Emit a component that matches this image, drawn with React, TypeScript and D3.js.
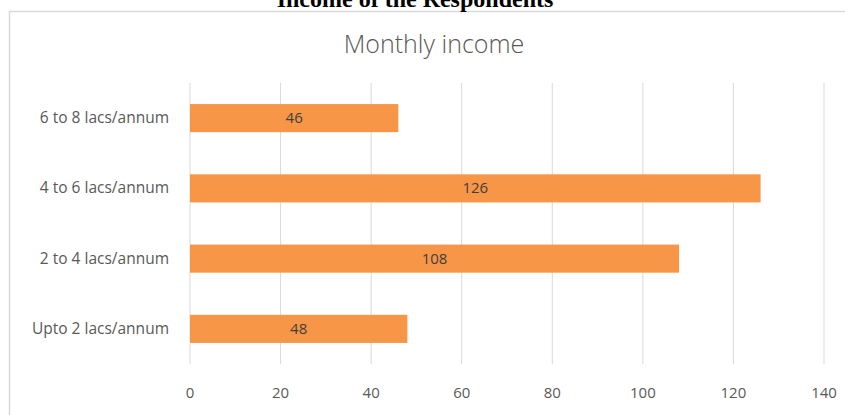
import React from 'react';
import * as d3 from 'd3';

const categories = ['6 to 8 lacs/annum', '4 to 6 lacs/annum', '2 to 4 lacs/annum', 'Upto 2 lacs/annum'];
const values = [46, 126, 108, 48];
const xTicks = [0, 20, 40, 60, 80, 100, 120, 140];

const W = 845;
const H = 415;
const BAR = '#F79646';
const GRID = '#d9d9d9';
const FONT = '"Open Sans", Lato, sans-serif';

const App = () => {
    const x = d3.scaleLinear().domain([0, 140]).range([190, 824]);
    const y = d3.scaleBand<string>().domain(categories).range([83, 364]).paddingInner(0.6).paddingOuter(0.3);

    return (
        <svg
            width={W}
            height={H}
            style={{ position: 'absolute', left: 0, top: 0, background: '#fff' }}
        >
            {/* chart frame */}
            <rect x={9.5} y={11.5} width={W} height={H} fill='none' stroke={GRID} strokeWidth={1.5} />
            {/* page caption above the chart, clipped by the top edge */}
            <text
                x={415}
                y={7}
                textAnchor='middle'
                fontFamily='"Liberation Serif", "Times New Roman", serif'
                fontWeight='bold'
                fontSize={24}
                fill='#000'
            >
                Income of the Respondents
            </text>
            <text x={434} y={53} textAnchor='middle' fontFamily={FONT} fontWeight={300} fontSize={25} fill='#595959'>
                Monthly income
            </text>
            {xTicks.map(t => (
                <g key={t}>
                    <line x1={x(t)} x2={x(t)} y1={83} y2={364} stroke={GRID} strokeWidth={1} />
                    <text x={x(t)} y={398} textAnchor='middle' fontFamily={FONT} fontSize={15} fill='#595959'>
                        {t}
                    </text>
                </g>
            ))}
            {categories.map((c, i) => {
                const by = y(c) ?? 0;
                const bh = y.bandwidth();
                return (
                    <g key={c}>
                        <text x={169} y={by + bh / 2 + 5} textAnchor='end' fontFamily={FONT} fontSize={15.5} fill='#595959'>
                            {c}
                        </text>
                        <rect x={x(0)} y={by} width={x(values[i]) - x(0)} height={bh} fill={BAR} />
                        <text
                            x={(x(0) + x(values[i])) / 2}
                            y={by + bh / 2 + 5}
                            textAnchor='middle'
                            fontFamily={FONT}
                            fontSize={15}
                            fill='#404040'
                        >
                            {values[i]}
                        </text>
                    </g>
                );
            })}
        </svg>
    );
};

export default App;
